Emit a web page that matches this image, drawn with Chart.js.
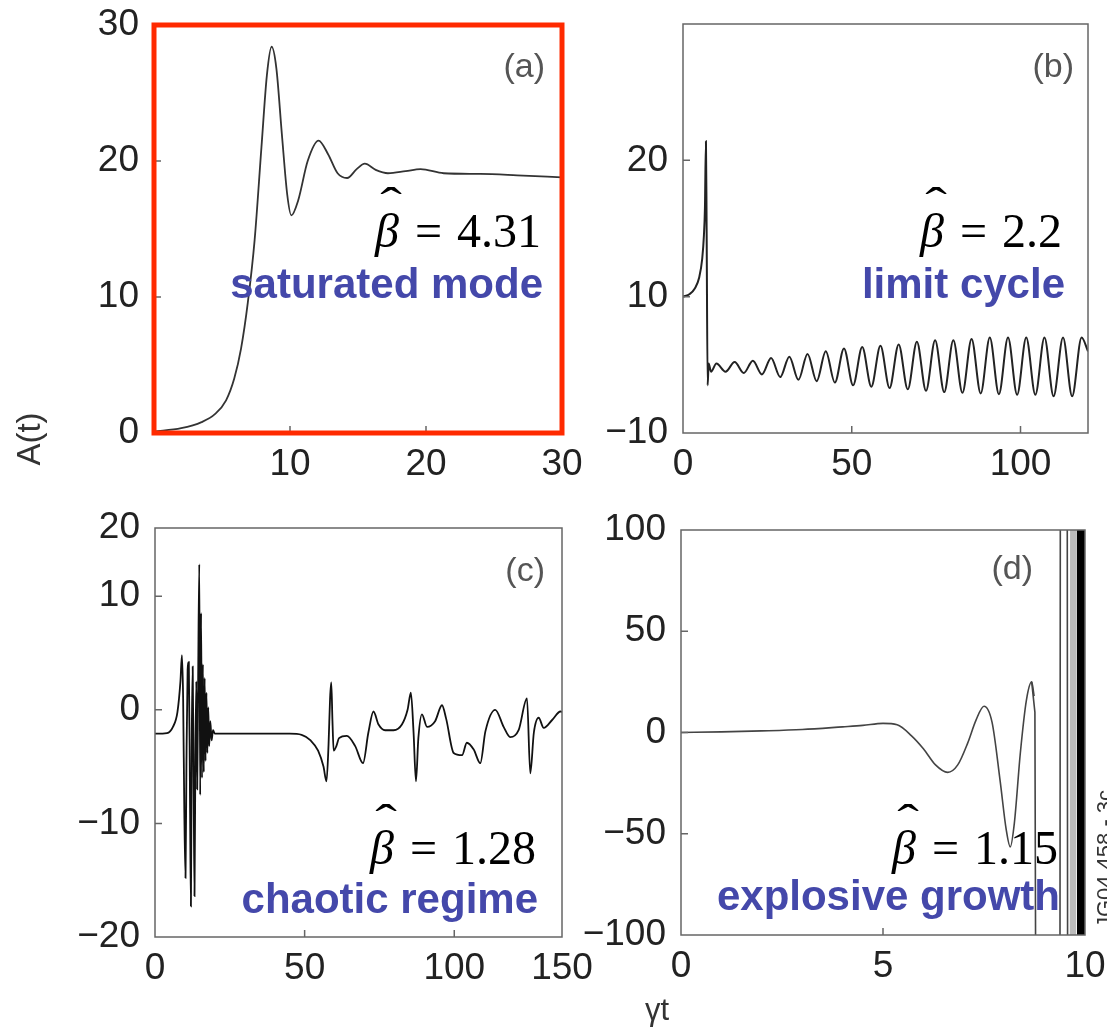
<!DOCTYPE html>
<html lang="en">
<head>
    <meta charset="utf-8">
    <title>A(t) regimes</title>
    <script src="https://cdn.jsdelivr.net/npm/chart.js"></script>
    <style>
        html, body {
            margin: 0;
            width: 1107px;
            height: 1031px;
            overflow: hidden;
            background: #fff;
            font-family: "Liberation Sans", Arial, sans-serif;
        }
        canvas {
            position: absolute;
        }
        .lbl {
            position: absolute;
            color: #333;
            white-space: nowrap;
            transform-origin: center center;
        }
    </style>
</head>
<body>

<canvas id="panelA"></canvas>
<canvas id="panelB"></canvas>
<canvas id="panelC"></canvas>
<canvas id="panelD"></canvas>

<div class="lbl" id="ylab" style="font-size:33px; left:-3px; top:420px; width:64px; text-align:center; transform:rotate(-90deg);">A(t)</div>
<div class="lbl" id="xlab" style="font-size:31px; left:645px; top:992px;">γt</div>
<div class="lbl" id="tag" style="font-size:22px; left:1025px; top:846px; width:160px; text-align:center; transform:rotate(-90deg);">JG04.458 - 3c</div>

<script>
    // (a) saturated mode
    const aT = [0, 2, 3.5, 4.5, 5.3, 5.9, 6.4, 6.9, 7.4, 7.9, 8.3, 8.65, 9.0, 9.4, 9.8, 10.1, 10.6, 11.3, 12.1, 12.8,
        13.5, 14.2, 14.9, 15.5, 16.3, 17.2, 18.5, 19.6, 21.3, 24, 26.7, 30];
    const aA = [0.1, 0.35, 0.8, 1.4, 2.4, 4.0, 6.2, 9.6, 14.2, 21, 26.3, 28.4, 26.8, 22, 17.5, 16.0, 17.1, 20.0, 21.5, 20.5,
        19.1, 18.75, 19.4, 19.8, 19.35, 19.1, 19.25, 19.4, 19.1, 19.05, 18.95, 18.8];

    // (b) limit cycle
    const bT = [0, 2, 3.5, 4.8, 5.7, 6.2, 6.5, 6.8, 7.0, 7.3, 7.6, 8.3, 9.9, 12.6, 15.3, 18.0, 20.7, 23.4, 26.1, 28.8,
        31.5, 34.2, 36.9, 39.6, 42.3, 45.0, 47.7, 50.4, 53.1, 55.8, 58.5, 61.2, 63.9, 66.6, 69.3, 72.0, 74.7, 77.4,
        80.1, 82.8, 85.5, 88.2, 90.9, 93.6, 96.3, 99.0, 101.7, 104.4, 107.1, 109.8, 112.6, 115.3, 118.1, 120];
    const bA = [10.0, 10.2, 10.6, 11.4, 12.8, 14.5, 16.5, 21.4, 15, 3.5, 5.1, 4.5, 5.1, 4.5, 5.2, 4.4, 5.3, 4.3, 5.5, 4.1,
        5.6, 3.9, 5.8, 3.8, 6.0, 3.7, 6.2, 3.5, 6.3, 3.4, 6.4, 3.3, 6.5, 3.2, 6.7, 3.1, 6.8, 3.0,
        6.8, 2.95, 6.9, 2.9, 7.0, 2.85, 7.0, 2.8, 7.0, 2.8, 7.0, 2.7, 7.0, 2.7, 7.0, 6.0];

    // (c) chaotic regime
    const cT = [0, 4, 6, 7.5, 8.5, 9.0, 9.4, 9.8, 10.2, 10.5, 10.9, 11.3, 11.7, 12.0, 12.3, 12.6, 12.9, 13.2, 13.5, 13.8,
        14.1, 14.4, 14.8, 15.1, 15.4, 15.7, 16.0, 16.3, 16.6, 16.9, 17.2, 17.5, 17.8, 18.1, 18.5, 18.9, 19.4, 20,
        30, 45, 49, 52, 54.5, 56.3, 57.3, 58.0, 58.5, 58.9, 59.3, 59.7, 60.6, 61.5, 64.1, 66.9, 69.5, 71.3, 73.0,
        74.7, 76.9, 79.7, 82.5, 84.4, 85.5, 86.4, 87.2, 88.0, 89.2, 90.9, 93.6, 95.9, 97.3, 99.8, 102.6, 104.2,
        106.5, 108.7, 110.4, 113.7, 116.5, 118.7, 121.5, 124.3, 125.4, 126.6, 128.2, 129.9, 132.7, 135.5, 136];
    const cA = [-2.1, -2.05, -1.5, -0.2, 2.5, 4.8, 1.0, -9, -14.8, -5, 3.5, 4.2, -8, -17.3, -2, 3.8, -6, -16.4, -4, 2.5,
        -7, 2, 12.8, -7.5, 8.5, -6, 4, -5.5, 2.8, -4.5, 1.5, -3.8, 0.2, -3.2, -1.0, -2.7, -1.8, -2.1,
        -2.1, -2.1, -2.2, -2.7, -3.6, -5, -6.3, -3, 1, 2.4, -1, -3.6, -3.2, -2.5, -2.3, -3.2, -4.7, -2.0, -0.15,
        -1.3, -1.8, -1.8, -1.3, 0, 1.5, -2, -6.3, -2.5, -0.4, -1.5, -1.0, 0.4, -0.8, -3.8, -4.0, -2.9,
        -3.5, -4.7, -1.9, 0, -1.5, -2.4, -1.8, 1.0, -5.6, -2, -0.7, -1.6, -0.9, -0.15, -0.2];

    // (d) explosive growth
    const dT = [0, 1, 2, 3, 4, 4.5, 5.0, 5.35, 5.7, 6.0, 6.3, 6.6, 6.85, 7.1, 7.3, 7.5, 7.7, 7.9, 8.05, 8.15, 8.25,
        8.4, 8.55, 8.68, 8.74];
    const dA = [0, 0.3, 0.8, 1.5, 2.8, 3.5, 4.5, 3.8, -1.5, -8, -16, -19.7, -16, -5, 6, 13, 5, -24, -48, -56.5, -45,
        -10, 16, 25, 18];
    const dBurstT = [8.68, 8.76, 8.82, 9.37, 9.40, 9.55, 9.58, 9.62];
    const dBurstA = [25, 10, -400, -400, 400, 400, -400, -400];
    const dGrayT = [9.63, 9.66, 9.69, 9.72, 9.75, 9.78];
    const dGrayA = [-400, 400, -400, 400, -400, 400];
    const dBlackT = [9.82, 9.84, 9.86, 9.88, 9.90, 9.92, 9.94, 9.96, 9.98, 10.0];
    const dBlackA = [400, -400, 400, -400, 400, -400, 400, -400, 400, -400];

    // tick positions and the labels printed at them
    const aXTicks = [10, 20, 30], aXLabels = ['10', '20', '30'];
    const aYTicks = [0, 10, 20, 30], aYLabels = ['0', '10', '20', '30'];
    const bXTicks = [0, 50, 100], bXLabels = ['0', '50', '100'];
    const bYTicks = [0, 10, 20], bYLabels = ['−10', '10', '20'];
    const cXTicks = [0, 50, 100, 136], cXLabels = ['0', '50', '100', '150'];
    const cYTicks = [-20, -10, 0, 10, 16], cYLabels = ['−20', '−10', '0', '10', '20'];
    const dXTicks = [0, 5, 10], dXLabels = ['0', '5', '10'];
    const dYTicks = [-100, -50, 0, 50, 100], dYLabels = ['−100', '−50', '0', '50', '100'];

    Chart.defaults.font.family = '"Liberation Sans", Arial, sans-serif';
    Chart.defaults.color = '#222';

    function pts(xs, ys) {
        return xs.map((x, i) => ({x: x, y: ys[i]}));
    }

    function curve(xs, ys, color, width, smooth) {
        return {
            data: pts(xs, ys),
            borderColor: color,
            borderWidth: width,
            pointRadius: 0,
            fill: false,
            tension: 0,
            cubicInterpolationMode: smooth ? 'monotone' : 'default'
        };
    }

    // frame, inner tick marks and the annotations
    const boxPlugin = {
        id: 'box',
        afterDraw(chart, args, o) {
            const ctx = chart.ctx;
            const a = chart.chartArea;
            const sx = chart.scales.x, sy = chart.scales.y;
            ctx.save();
            ctx.strokeStyle = '#666';
            ctx.lineWidth = 1.5;
            ctx.beginPath();
            o.xMarks.forEach(v => {
                const px = sx.getPixelForValue(v);
                ctx.moveTo(px, a.bottom);
                ctx.lineTo(px, a.bottom - 7);
            });
            o.yMarks.forEach(v => {
                const py = sy.getPixelForValue(v);
                ctx.moveTo(a.left, py);
                ctx.lineTo(a.left + 7, py);
            });
            ctx.stroke();
            ctx.strokeStyle = o.frameColor;
            ctx.lineWidth = o.frameWidth;
            ctx.strokeRect(a.left, a.top, a.right - a.left, a.bottom - a.top);

            // panel letter
            ctx.fillStyle = '#555';
            ctx.font = '34px "Liberation Sans"';
            ctx.textAlign = 'right';
            ctx.textBaseline = 'middle';
            ctx.fillText(o.letter, a.right + o.letterDx, a.top + o.letterDy);

            // beta-hat = value
            ctx.textBaseline = 'alphabetic';
            ctx.fillStyle = '#000';
            ctx.font = '48px "Liberation Serif"';
            const rx = a.right + o.betaDx, by = a.top + o.betaDy;
            ctx.fillText(o.beta, rx, by);
            const vw = ctx.measureText(o.beta).width;
            const ex = rx - vw - 15;
            ctx.fillText('=', ex, by);
            const ew = ctx.measureText('=').width;
            ctx.font = 'italic 48px "Liberation Serif"';
            const bw = ctx.measureText('β').width;
            const bx = ex - ew - 16;
            ctx.fillText('β', bx, by);
            // circumflex above the beta
            ctx.save();
            ctx.translate(bx - bw / 2 + 4, by - 27);
            ctx.scale(1.25, 0.9);
            ctx.font = '52px "Liberation Serif"';
            ctx.textAlign = 'center';
            ctx.fillText('ˆ', 0, 0);
            ctx.restore();

            // regime name
            ctx.textAlign = 'right';
            ctx.fillStyle = '#4448AA';
            ctx.font = 'bold 42px "Liberation Sans"';
            ctx.fillText(o.mode, a.right + o.modeDx, a.top + o.modeDy);
            ctx.restore();
        }
    };

    function makePanel(id, box, cfg) {
        const padL = 130, padT = 30, padR = 40, padB = 70;
        const cv = document.getElementById(id);
        cv.width = box.r - box.l + padL + padR;
        cv.height = box.b - box.t + padT + padB;
        cv.style.left = (box.l - padL) + 'px';
        cv.style.top = (box.t - padT) + 'px';

        const fixY = s => {
            s.width = padL;
            s.paddingTop = s.paddingBottom = s.paddingLeft = s.paddingRight = 0;
        };
        const fixX = s => {
            s.height = padB;
            s.paddingTop = s.paddingBottom = s.paddingLeft = s.paddingRight = 0;
        };

        return new Chart(cv, {
            type: 'line',
            data: {datasets: cfg.datasets},
            options: {
                responsive: false,
                animation: false,
                events: [],
                layout: {padding: {left: 0, top: padT, right: padR, bottom: 0}},
                plugins: {
                    legend: {display: false},
                    tooltip: {enabled: false},
                    box: cfg.box
                },
                scales: {
                    x: {
                        type: 'linear',
                        min: cfg.xMin,
                        max: cfg.xMax,
                        grid: {display: false},
                        border: {display: false},
                        afterBuildTicks: s => { s.ticks = cfg.xTicks.map(v => ({value: v})); },
                        afterFit: fixX,
                        ticks: {
                            autoSkip: false,
                            maxRotation: 0,
                            padding: 2,
                            font: {size: 37},
                            callback: (v, i) => cfg.xLabels[i]
                        }
                    },
                    y: {
                        type: 'linear',
                        min: cfg.yMin,
                        max: cfg.yMax,
                        grid: {display: false},
                        border: {display: false},
                        afterBuildTicks: s => { s.ticks = cfg.yTicks.map(v => ({value: v})); },
                        afterFit: fixY,
                        ticks: {
                            autoSkip: false,
                            padding: 7,
                            font: {size: 37},
                            callback: (v, i) => cfg.yLabels[i]
                        }
                    }
                }
            },
            plugins: [boxPlugin]
        });
    }

    makePanel('panelA', {l: 154, t: 25, r: 562, b: 433}, {
        datasets: [curve(aT, aA, '#333', 1.8, true)],
        xMin: 0, xMax: 30, yMin: 0, yMax: 30,
        xTicks: aXTicks, xLabels: aXLabels, yTicks: aYTicks, yLabels: aYLabels,
        box: {
            xMarks: [10, 20], yMarks: [10, 20], frameColor: '#FF2A00', frameWidth: 5,
            letter: '(a)', letterDx: -17, letterDy: 43,
            beta: '4.31', betaDx: -21, betaDy: 222,
            mode: 'saturated mode', modeDx: -19, modeDy: 273
        }
    });

    makePanel('panelB', {l: 683, t: 24, r: 1088, b: 433}, {
        datasets: [curve(bT, bA, '#222', 2, true)],
        xMin: 0, xMax: 120, yMin: 0, yMax: 30,
        xTicks: bXTicks, xLabels: bXLabels, yTicks: bYTicks, yLabels: bYLabels,
        box: {
            xMarks: [50, 100], yMarks: [10, 20], frameColor: '#666', frameWidth: 1.5,
            letter: '(b)', letterDx: -14, letterDy: 44,
            beta: '2.2', betaDx: -26, betaDy: 223,
            mode: 'limit cycle', modeDx: -23, modeDy: 274
        }
    });

    makePanel('panelC', {l: 155, t: 528, r: 562, b: 937}, {
        datasets: [curve(cT, cA, '#111', 1.8, true)],
        xMin: 0, xMax: 136, yMin: -20, yMax: 16,
        xTicks: cXTicks, xLabels: cXLabels, yTicks: cYTicks, yLabels: cYLabels,
        box: {
            xMarks: [50, 100], yMarks: [-10, 0, 10], frameColor: '#666', frameWidth: 1.5,
            letter: '(c)', letterDx: -17, letterDy: 44,
            beta: '1.28', betaDx: -26, betaDy: 336,
            mode: 'chaotic regime', modeDx: -24, modeDy: 385
        }
    });

    makePanel('panelD', {l: 681, t: 530, r: 1085, b: 935}, {
        datasets: [
            curve(dT, dA, '#444', 1.6, true),
            curve(dBurstT, dBurstA, '#444', 1.6, false),
            curve(dGrayT, dGrayA, '#bbb', 1.5, false),
            curve(dBlackT, dBlackA, '#000', 2.5, false)
        ],
        xMin: 0, xMax: 10, yMin: -100, yMax: 100,
        xTicks: dXTicks, xLabels: dXLabels, yTicks: dYTicks, yLabels: dYLabels,
        box: {
            xMarks: [5], yMarks: [-50, 0, 50], frameColor: '#666', frameWidth: 1.5,
            letter: '(d)', letterDx: -52, letterDy: 40,
            beta: '1.15', betaDx: -27, betaDy: 334,
            mode: 'explosive growth', modeDx: -25, modeDy: 380
        }
    });
</script>

</body>
</html>
